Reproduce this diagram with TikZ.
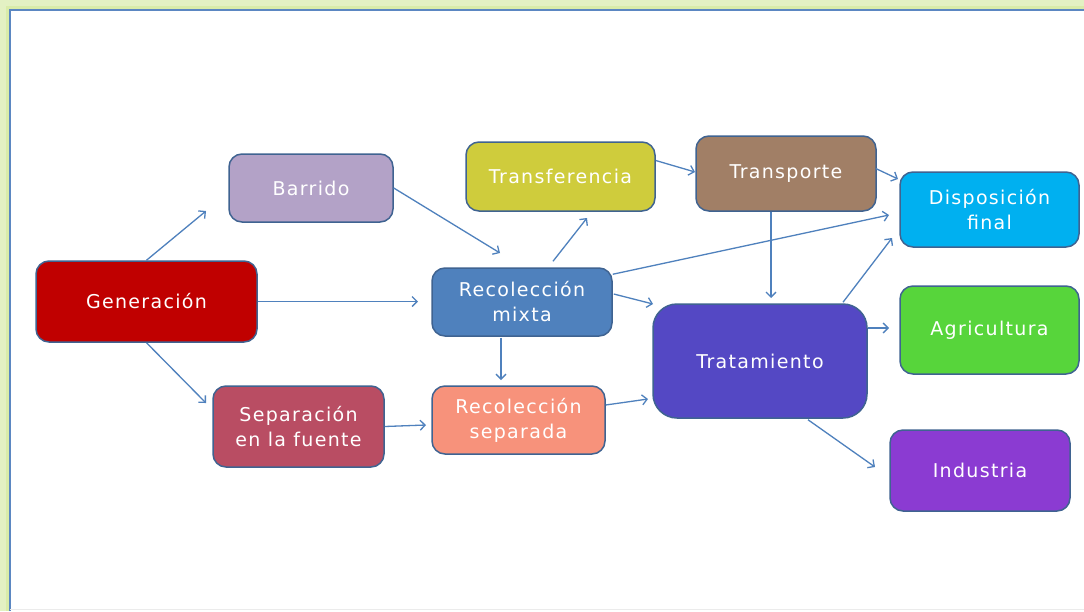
\documentclass[tikz,border=0pt]{standalone}
\usepackage{fontspec}
\newfontfamily\lab[LetterSpace=7]{DejaVu Sans}
\usetikzlibrary{arrows.meta,calc}
\definecolor{glow}{HTML}{E3F1C3}
\definecolor{glowin}{HTML}{D9ECA9}
\definecolor{frameblue}{HTML}{5B87C2}
\definecolor{bord}{HTML}{3F6391}
\definecolor{arr}{HTML}{4F81BD}
\definecolor{cgen}{HTML}{C00000}
\definecolor{cbar}{HTML}{B3A2C7}
\definecolor{csep}{HTML}{B94D63}
\definecolor{crm}{HTML}{4F81BD}
\definecolor{crs}{HTML}{F7927B}
\definecolor{ctf}{HTML}{CFCC3C}
\definecolor{ctp}{HTML}{A17F66}
\definecolor{ctr}{HTML}{5448C4}
\definecolor{cdis}{HTML}{00B0F0}
\definecolor{cagr}{HTML}{57D53B}
\definecolor{cind}{HTML}{8B3BD2}
\tikzset{
  box/.style={draw=bord, line width=1.5pt, rounded corners=13pt, text=white,
    font=\lab\fontsize{19}{25}\selectfont, align=center, inner sep=0pt},
  con/.style={draw=arr, line width=1.3pt, -{Straight Barb[length=5pt,width=10pt]}}
}
\begin{document}
\begin{tikzpicture}[x=1pt,y=-1pt]
\useasboundingbox (0,0) rectangle (1084,611);
\fill[glow] (0,0) rectangle (1084,611);
\fill[glowin] (6,6) rectangle (1084,611);
\fill[white] (10,10) rectangle (1084,611);
\draw[frameblue, line width=1.5pt] (10,611) -- (10,10) -- (1084,10);
\draw[black!8, line width=1pt] (10,609.5) -- (1084,609.5);

% nodes
\node[box, fill=cgen, minimum width=221pt, minimum height=81pt] (gen) at (146.5,301.5) {Generación};
\node[box, fill=cbar, minimum width=164pt, minimum height=68pt] (bar) at (311,188) {Barrido};
\node[box, fill=csep, minimum width=171pt, minimum height=81pt] (sep) at (298.5,426.5) {Separación\\en la fuente};
\node[box, fill=crm, minimum width=180pt, minimum height=68pt] (rm) at (522,302) {Recolección\\mixta};
\node[box, fill=crs, minimum width=173pt, minimum height=68pt] (rs) at (518.5,420) {Recolección\\separada};
\node[box, fill=ctf, minimum width=189pt, minimum height=69pt] (tf) at (560.5,176.5) {Transferencia};
\node[box, fill=ctp, minimum width=180pt, minimum height=75pt] (tp) at (786,173.5) {Transporte};
\node[box, fill=ctr, rounded corners=24pt, minimum width=214pt, minimum height=114pt] (tr) at (760,361) {Tratamiento};
\node[box, fill=cdis, minimum width=179pt, minimum height=75pt] (dis) at (989.5,209.5) {Disposición\\final};
\node[box, fill=cagr, minimum width=179pt, minimum height=88pt] (agr) at (989.5,330) {Agricultura};
\node[box, fill=cind, minimum width=180pt, minimum height=81pt] (ind) at (980,470.5) {Industria};

% free arrow ends
\coordinate (e1) at (206,211);
\coordinate (e2) at (206,403);
\coordinate (e3) at (418,301.5);
\coordinate (e4) at (500,253);
\coordinate (e5) at (587,218);
\coordinate (e6) at (889,215);
\coordinate (e7) at (653,304);
\coordinate (e8) at (501,380);
\coordinate (e9) at (426,425);
\coordinate (e10) at (648,399);
\coordinate (e11) at (695,172);
\coordinate (e12) at (898,179);
\coordinate (e13) at (771,298);
\coordinate (e14) at (892,238);
\coordinate (e15) at (889,328);
\coordinate (e16) at (875,467);

% connectors
\draw[con] (gen.north) -- (e1);
\draw[con] (gen.south) -- (e2);
\draw[con] (gen.east) -- (e3);
\draw[con] (bar.east) -- (e4);
\draw[con] ($(rm.north)+(31,-6)$) -- (e5);
\draw[con] ($(rm.north east)+(0,7)$) -- (e6);
\draw[con] ($(rm.east)+(1,-8)$) -- (e7);
\draw[con] ($(rm.south)+(-21,1)$) -- (e8);
\draw[con] (sep.east) -- (e9);
\draw[con] ($(rs.east)+(0,-15)$) -- (e10);
\draw[con] ($(tf.east)+(0,-16)$) -- (e11);
\draw[con] ($(tp.east)+(-1,-5)$) -- (e12);
\draw[con] ($(tp.south)+(-15,0)$) -- (e13);
\draw[con] ($(tr.north)+(83,-1)$) -- (e14);
\draw[con] ($(tr.east)+(0,-33)$) -- (e15);
\draw[con] ($(tr.south)+(48,1)$) -- (e16);
\end{tikzpicture}
\end{document}
